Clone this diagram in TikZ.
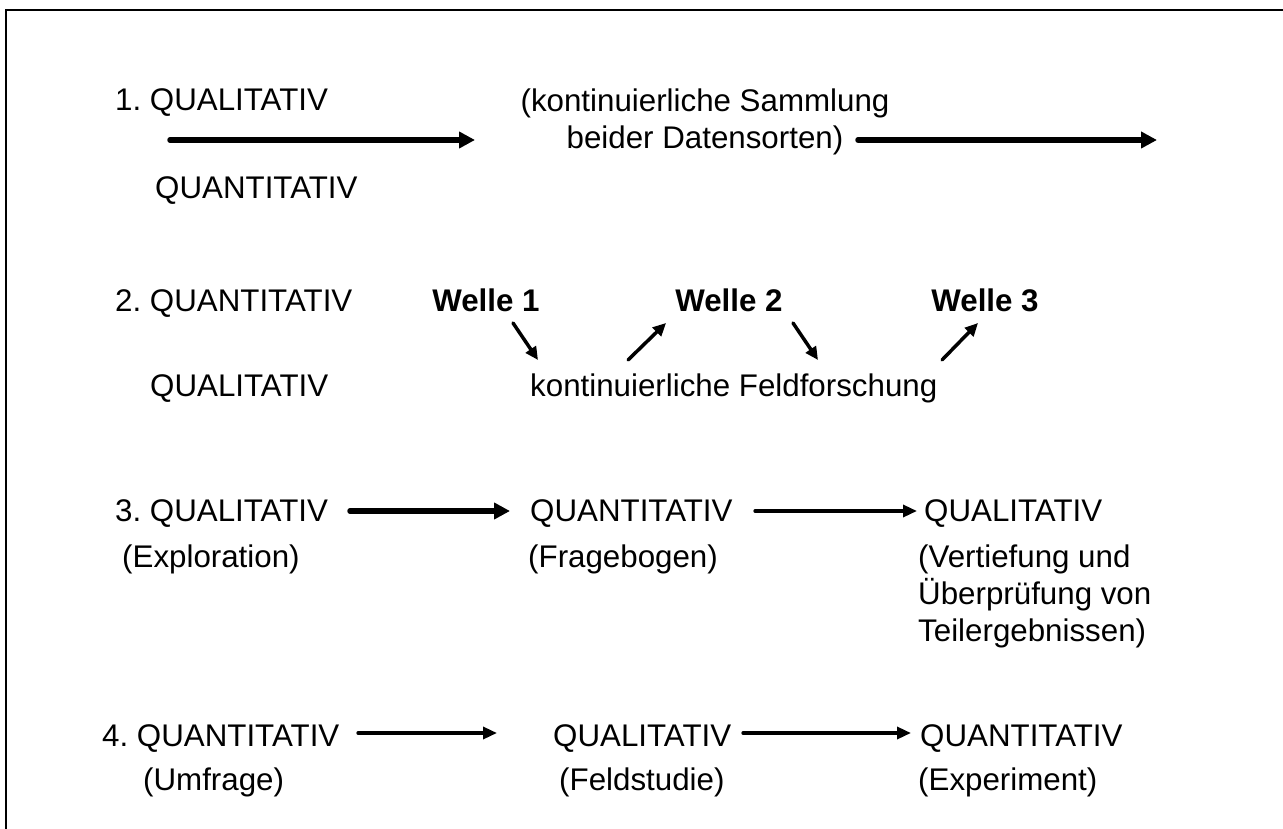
\documentclass[tikz,border=0pt]{standalone}
\usepackage{fontspec}
\setmainfont{Liberation Sans}
\usetikzlibrary{arrows.meta}
\frenchspacing
\begin{document}
\begin{tikzpicture}[x=1pt,y=-1pt,
  txt/.style={anchor=base west,inner sep=0pt,font=\fontsize{31.3}{37}\selectfont},
  ctxt/.style={anchor=base,inner sep=0pt,font=\fontsize{31.3}{37}\selectfont},
  welle/.style={anchor=base,inner sep=0pt,font=\fontsize{31.3}{37}\selectfont\bfseries},
  fatarrow/.style={line width=5.5pt,line cap=round,-{Triangle[length=16pt,width=16pt]}},
  thinarrow/.style={line width=3.3pt,line cap=round,-{Triangle[length=14pt,width=12pt]}},
  wavearrow/.style={line width=3.5pt,line cap=round,-{Triangle[length=13pt,width=12pt]}},
  frame/.style={line width=2.5pt}]
\useasboundingbox (0,0) rectangle (1283,829);
% frame
\coordinate (fbl) at (6,829);
\coordinate (ftl) at (6,10);
\coordinate (ftr) at (1283,10);
\draw[frame] (fbl) -- (ftl) -- (ftr);

% Row 1
\node[txt] (r1a) at (115,111) {1. QUALITATIV};
\node[txt] (r1b) at (155,199) {QUANTITATIV};
\node[ctxt,align=center] (r1c) at (705,149) {(kontinuierliche Sammlung\\beider Datensorten)};
\coordinate (a1s) at (170,140);
\coordinate (a1e) at (475,140);
\coordinate (a2s) at (858,140);
\coordinate (a2e) at (1157,140);
\draw[fatarrow] (a1s) -- (a1e);
\draw[fatarrow] (a2s) -- (a2e);

% Row 2
\node[txt] (r2a) at (115,311) {2. QUANTITATIV};
\node[txt] (r2b) at (150,396) {QUALITATIV};
\node[welle] (w1) at (486,311) {Welle 1};
\node[welle] (w2) at (729,311) {Welle 2};
\node[welle] (w3) at (985,311) {Welle 3};
\node[txt] (kf) at (530,396) {kontinuierliche Feldforschung};
\coordinate (b1s) at (513,323);
\coordinate (b1e) at (538,360);
\coordinate (b2s) at (628,360);
\coordinate (b2e) at (666,323);
\coordinate (b3s) at (793,323);
\coordinate (b3e) at (818,360);
\coordinate (b4s) at (942,360);
\coordinate (b4e) at (978,323);
\draw[wavearrow] (b1s) -- (b1e);
\draw[wavearrow] (b2s) -- (b2e);
\draw[wavearrow] (b3s) -- (b3e);
\draw[wavearrow] (b4s) -- (b4e);

% Row 3
\node[txt] (r3a) at (115,521) {3. QUALITATIV};
\node[txt] (r3b) at (530,521) {QUANTITATIV};
\node[txt] (r3c) at (924,521) {QUALITATIV};
\node[txt] (r3d) at (122,567) {(Exploration)};
\node[txt] (r3e) at (528,567) {(Fragebogen)};
\node[txt,align=left,anchor=north west] (r3f) at (918,545) {(Vertiefung und\\Überprüfung von\\Teilergebnissen)};
\coordinate (c1s) at (350,511);
\coordinate (c1e) at (510,511);
\coordinate (c2s) at (755,511);
\coordinate (c2e) at (917,511);
\draw[fatarrow] (c1s) -- (c1e);
\draw[thinarrow] (c2s) -- (c2e);

% Row 4
\node[txt] (r4a) at (102,746) {4. QUANTITATIV};
\node[txt] (r4b) at (553,746) {QUALITATIV};
\node[txt] (r4c) at (920,746) {QUANTITATIV};
\node[txt] (r4d) at (143,790) {(Umfrage)};
\node[txt] (r4e) at (559,790) {(Feldstudie)};
\node[txt] (r4f) at (918,790) {(Experiment)};
\coordinate (d1s) at (358,733);
\coordinate (d1e) at (497,733);
\coordinate (d2s) at (743,733);
\coordinate (d2e) at (911,733);
\draw[thinarrow] (d1s) -- (d1e);
\draw[thinarrow] (d2s) -- (d2e);
\end{tikzpicture}
\end{document}
